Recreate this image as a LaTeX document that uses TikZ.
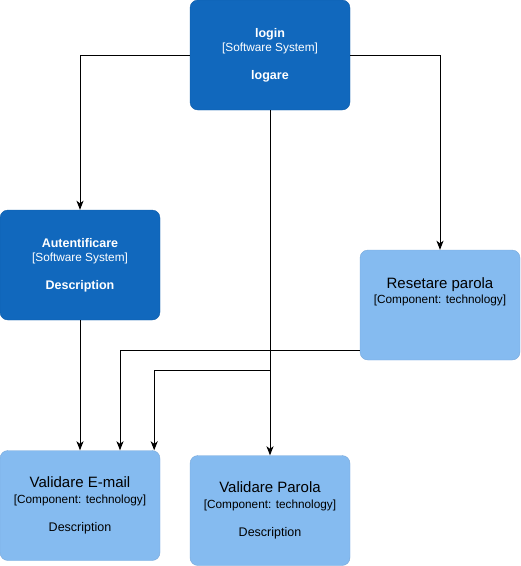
\documentclass[tikz,border=0pt]{standalone}
\usepackage{fontspec}
\setmainfont{Liberation Sans}
\usetikzlibrary{positioning, arrows.meta}

\definecolor{sysblue}{HTML}{1168BD}
\definecolor{sysline}{HTML}{0F5DAA}
\definecolor{compblue}{HTML}{85BBF0}
\definecolor{compline}{HTML}{78A8DA}

\tikzset{
  sysbox/.style={draw=sysline, fill=sysblue, text=white, rounded corners=8pt,
    minimum width=160pt, minimum height=110pt, inner sep=0pt, align=center,
    font=\fontsize{11.8}{14}\selectfont},
  compbox/.style={draw=compline, fill=compblue, text=black, rounded corners=8pt,
    minimum width=160pt, minimum height=110pt, inner sep=0pt, align=center,
    font=\fontsize{11.8}{15.5}\selectfont},
  arr/.style={-{Stealth[length=9pt,width=7pt,inset=2.5pt]}, line width=1pt}
}

\begin{document}
\begin{tikzpicture}[x=1pt,y=-1pt]
      \useasboundingbox (0,0) rectangle (521,566);

      % boxes
      \node[sysbox] (login) at (270,55)
        {{\fontsize{12.5}{14}\selectfont\bfseries login}\\ {[Software System]}\\[14pt]
         {\fontsize{12.5}{14}\selectfont\bfseries logare}};
      \node[sysbox] (autent) at (80,265)
        {{\fontsize{12.5}{14}\selectfont\bfseries Autentificare}\\ {[Software System]}\\[14pt]
         {\fontsize{12.5}{14}\selectfont\bfseries Description}};
      \node[compbox] (reset) at (440,305)
        {{\fontsize{15}{15}\selectfont Resetare parola}\\ {[Component: technology]}\\[13pt] ~};
      \node[compbox] (email) at (80,505.5)
        {{\fontsize{15}{15}\selectfont Validare E-mail}\\ {[Component: technology]}\\[13pt]
         {\fontsize{12.5}{15}\selectfont Description}};
      \node[compbox] (vparola) at (270,510.5)
        {{\fontsize{15}{15}\selectfont Validare Parola}\\ {[Component: technology]}\\[13pt]
         {\fontsize{12.5}{15}\selectfont Description}};

      \coordinate (bend) at (270,370);

      % connectors
      \draw[arr] (login.west) -| (autent.north);
      \draw[arr] (login.east) -| (reset.north);
      \draw[arr] (login.south) -- (vparola.north);
      \draw[arr] (autent.south) -- (email.north);
      \draw[arr] ([yshift=-45pt]reset.west) -| ([xshift=40pt]email.north);
      \draw[arr] (login.south) -- (bend) -| ([xshift=-6pt]email.north east);
\end{tikzpicture}
\end{document}
